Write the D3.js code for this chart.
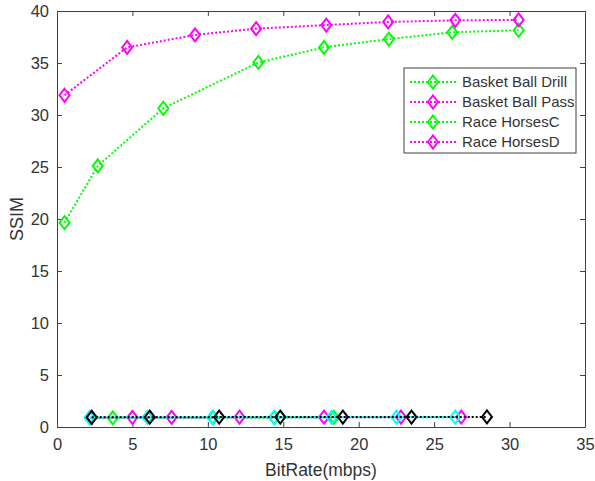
<!DOCTYPE html>
<html>
<head>
<meta charset="utf-8">
<script src="https://cdn.jsdelivr.net/npm/d3@7"></script>
<style>
  body { margin: 0; background: #fff; }
  text { font-family: "Liberation Sans", Arial, sans-serif; fill: #333; }
</style>
</head>
<body>
<script>
// bit rate (mbps) and SSIM
var drillX = [0.5, 2.7, 7.05, 13.35, 17.7, 22.0, 26.2, 30.6];
var drillY = [19.65, 25.1, 30.65, 35.05, 36.5, 37.3, 37.95, 38.15];
var passX = [0.5, 4.65, 9.15, 13.2, 17.85, 21.95, 26.4, 30.6];
var passY = [31.9, 36.5, 37.7, 38.3, 38.65, 38.95, 39.1, 39.15];
var horsesCX = [2.2, 3.7, 10.35, 14.4, 18.35];
var horsesCY = [0.9, 0.88, 0.9, 0.9, 0.92];
var horsesDX = [2.3, 5.0, 7.6, 12.1, 17.7, 22.8, 26.8];
var horsesDY = [0.92, 0.93, 0.93, 0.94, 0.94, 0.95, 0.95];
var cyanX = [2.15, 6.0, 10.3, 14.4, 18.2, 22.5, 26.4];
var cyanY = [0.9, 0.92, 0.92, 0.93, 0.93, 0.94, 0.94];
var blackX = [2.3, 6.15, 10.75, 14.8, 18.95, 23.5, 28.5];
var blackY = [0.93, 0.94, 0.95, 0.95, 0.96, 0.96, 0.97];

var legendNames = ['Basket Ball Drill', 'Basket Ball Pass', 'Race HorsesC', 'Race HorsesD'];
var xTicks = [0, 5, 10, 15, 20, 25, 30, 35];
var yTicks = [0, 5, 10, 15, 20, 25, 30, 35, 40];

function zip(xs, ys) {
  return xs.map(function(x, i) { return { x: x, y: ys[i] }; });
}

var series = [
  { pts: zip(drillX, drillY), color: '#00ff00' },
  { pts: zip(passX, passY), color: '#ff00ff' },
  { pts: zip(horsesCX, horsesCY), color: '#00ff00' },
  { pts: zip(horsesDX, horsesDY), color: '#ff00ff' },
  { pts: zip(cyanX, cyanY), color: '#00ffff' },
  { pts: zip(blackX, blackY), color: '#000000' }
];

var width = 595, height = 481;
var margin = { top: 11, right: 10, bottom: 54, left: 57 };
var w = width - margin.left - margin.right,
    h = height - margin.top - margin.bottom;

var svg = d3.select('body').append('svg')
  .attr('width', width)
  .attr('height', height);

var g = svg.append('g')
  .attr('transform', 'translate(' + margin.left + ',' + margin.top + ')');

var x = d3.scaleLinear().domain([0, 35]).range([0, w]);
var y = d3.scaleLinear().domain([0, 40]).range([h, 0]);

var axisColor = '#404040';

// box axes, MATLAB style: ticks point inward on all four sides
var xAxis = g.append('g')
  .attr('transform', 'translate(0,' + h + ')')
  .call(d3.axisBottom(x).tickValues(xTicks).tickSizeInner(-5).tickSizeOuter(0).tickPadding(11));
var yAxis = g.append('g')
  .call(d3.axisLeft(y).tickValues(yTicks).tickSizeInner(-5).tickSizeOuter(0).tickPadding(8));
var xTop = g.append('g')
  .call(d3.axisTop(x).tickValues(xTicks).tickSizeInner(-5).tickSizeOuter(0).tickFormat(''));
var yRight = g.append('g')
  .attr('transform', 'translate(' + w + ',0)')
  .call(d3.axisRight(y).tickValues(yTicks).tickSizeInner(-5).tickSizeOuter(0).tickFormat(''));

[xAxis, yAxis, xTop, yRight].forEach(function(a) {
  a.selectAll('path').attr('stroke', axisColor).attr('stroke-width', 1);
  a.selectAll('line').attr('stroke', axisColor).attr('stroke-width', 1);
  a.selectAll('text')
    .style('font-family', '"Liberation Sans", Arial, sans-serif')
    .style('font-size', '16.5px')
    .attr('fill', '#333');
});

var line = d3.line()
  .x(function(d) { return x(d.x); })
  .y(function(d) { return y(d.y); });

var diamond = 'M0,-6.5L5,0L0,6.5L-5,0Z';

series.forEach(function(s) {
  g.append('path')
    .datum(s.pts)
    .attr('d', line)
    .attr('fill', 'none')
    .attr('stroke', s.color)
    .attr('stroke-width', 2)
    .attr('stroke-dasharray', '2,2');
  g.selectAll(null)
    .data(s.pts)
    .enter().append('path')
      .attr('d', diamond)
      .attr('transform', function(d) { return 'translate(' + x(d.x) + ',' + y(d.y) + ')'; })
      .attr('fill', 'none')
      .attr('stroke', s.color)
      .attr('stroke-width', 2);
});

// axis titles
svg.append('text')
  .attr('x', margin.left + w / 2)
  .attr('y', 476)
  .attr('text-anchor', 'middle')
  .style('font-size', '17.5px')
  .text('BitRate(mbps)');

svg.append('text')
  .attr('transform', 'translate(23,' + (margin.top + h / 2) + ') rotate(-90)')
  .attr('text-anchor', 'middle')
  .style('font-size', '18px')
  .text('SSIM');

// legend
var lg = svg.append('g').attr('transform', 'translate(404,68)');
lg.append('rect')
  .attr('width', 172)
  .attr('height', 85)
  .attr('fill', '#fff')
  .attr('stroke', '#404040')
  .attr('stroke-width', 1);

legendNames.forEach(function(name, i) {
  var yy = 14 + i * 20;
  var col = series[i].color;
  lg.append('line')
    .attr('x1', 6).attr('x2', 54)
    .attr('y1', yy).attr('y2', yy)
    .attr('stroke', col)
    .attr('stroke-width', 2)
    .attr('stroke-dasharray', '2,2');
  lg.append('path')
    .attr('d', diamond)
    .attr('transform', 'translate(29,' + yy + ')')
    .attr('fill', 'none')
    .attr('stroke', col)
    .attr('stroke-width', 2);
  lg.append('text')
    .attr('x', 58)
    .attr('y', yy)
    .attr('dy', '0.35em')
    .style('font-size', '15px')
    .text(name);
});
</script>
</body>
</html>
